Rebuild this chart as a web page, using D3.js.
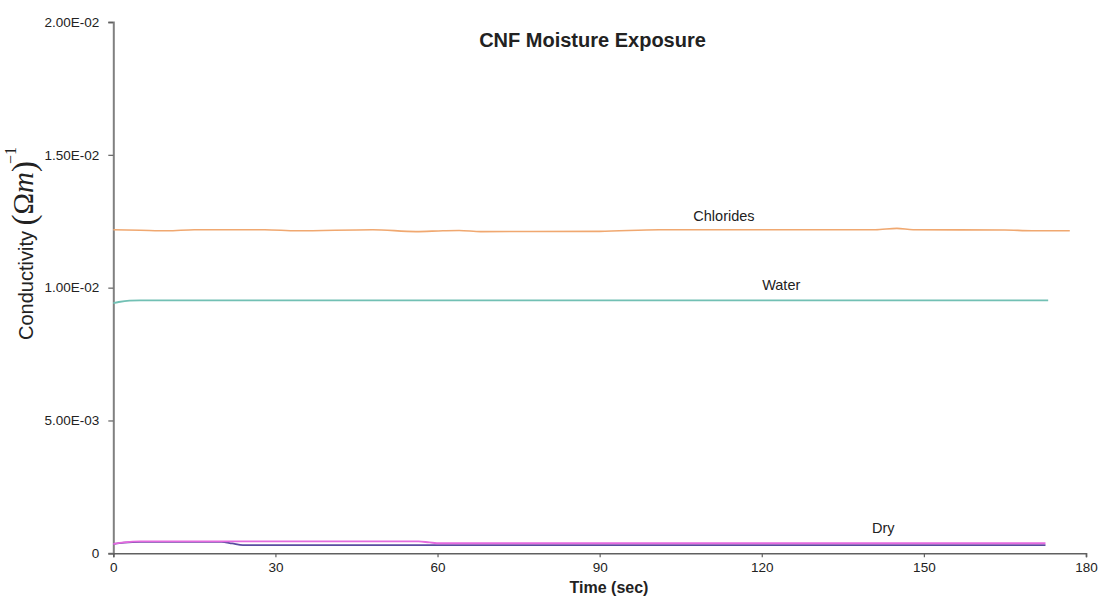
<!DOCTYPE html>
<html>
<head>
<meta charset="utf-8">
<script src="https://cdn.jsdelivr.net/npm/d3@7"></script>
<style>
  html, body { margin: 0; padding: 0; background: #fff; }
  svg { display: block; }
  text { font-family: "Liberation Sans", Arial, sans-serif; fill: #222; }
</style>
</head>
<body>
<svg id="chart" width="1107" height="598"></svg>
<script>
// Conductivity readings over time (seconds), one array pair per exposure condition
const chloridesTime = [0, 5, 10, 15, 28, 34, 48, 56, 61, 64, 68, 90, 101, 131, 141, 145, 148, 165, 170, 177];
const chloridesValue = [0.01218, 0.01216, 0.01214, 0.01218, 0.01218, 0.01214, 0.01218, 0.01211, 0.01214, 0.01215,
                        0.01211, 0.01212, 0.01218, 0.01218, 0.01218, 0.01223, 0.01218, 0.01217, 0.01214, 0.01214];

const waterTime = [0, 1, 3, 5, 30, 60, 90, 120, 150, 173];
const waterValue = [0.00942, 0.00946, 0.00951, 0.00952, 0.00952, 0.00952, 0.00952, 0.00952, 0.00952, 0.00952];

const dryATime = [0, 2, 5, 20, 22, 24, 60, 120, 172.5];
const dryAValue = [0.00035, 0.00040, 0.00043, 0.00043, 0.00037, 0.00031, 0.00031, 0.00031, 0.00031];

const dryBTime = [0, 2, 5, 56.5, 58.5, 60.5, 120, 172.5];
const dryBValue = [0.00035, 0.00041, 0.00045, 0.00045, 0.00041, 0.00038, 0.00038, 0.00038];

const xTicks = [0, 30, 60, 90, 120, 150, 180];
const yTicks = [0, 0.005, 0.01, 0.015, 0.02];

const chartTitle = "CNF Moisture Exposure";
const xTitle = "Time (sec)";

const svg = d3.select("#chart");

const x = d3.scaleLinear().domain([0, 180]).range([113.3, 1086]);
const y = d3.scaleLinear().domain([0, 0.02]).range([553.3, 22]);

const fmtY = d => {
  if (d === 0) return "0";
  const [m, e] = d.toExponential(2).split("e");
  const sign = e[0] === "-" ? "-" : "+";
  const digits = e.replace(/[+-]/, "").padStart(2, "0");
  return m + "E" + sign + digits;
};

// Axes
const yAxis = svg.append("g")
  .attr("transform", `translate(${x(0)},0)`)
  .call(d3.axisLeft(y).tickValues(yTicks).tickFormat(fmtY).tickSizeOuter(0).tickSize(5).tickPadding(9));
yAxis.select(".domain").attr("stroke", "#808080").attr("stroke-width", 2);
yAxis.selectAll(".tick line").attr("stroke", "#606060").attr("stroke-width", 1.2);
yAxis.selectAll(".tick text").attr("font-size", 13.5).attr("font-family", "Liberation Sans, Arial, sans-serif").attr("fill", "#333");

const xAxis = svg.append("g")
  .attr("transform", `translate(0,${y(0)})`)
  .call(d3.axisBottom(x).tickValues(xTicks).tickFormat(d3.format("d")).tickSizeOuter(0).tickSize(4).tickPadding(5));
xAxis.select(".domain").attr("stroke", "#606060").attr("stroke-width", 1.6);
xAxis.selectAll(".tick line").attr("stroke", "#606060").attr("stroke-width", 1.2);
xAxis.selectAll(".tick text").attr("font-size", 13.5).attr("font-family", "Liberation Sans, Arial, sans-serif").attr("fill", "#333");

// Series lines
const line = d3.line().x(d => x(d[0])).y(d => y(d[1])).curve(d3.curveMonotoneX);
const zip = (t, v) => t.map((ti, i) => [ti, v[i]]);

const series = [
  { name: "Chlorides", data: zip(chloridesTime, chloridesValue), color: "#F0A870", width: 1.6 },
  { name: "Water", data: zip(waterTime, waterValue), color: "#72C0B4", width: 1.8 },
  { name: "DryA", data: zip(dryATime, dryAValue), color: "#5A4CA0", width: 1.8 },
  { name: "DryB", data: zip(dryBTime, dryBValue), color: "#E56ADF", width: 1.9 }
];

svg.append("g").selectAll("path")
  .data(series)
  .join("path")
  .attr("d", d => line(d.data))
  .attr("fill", "none")
  .attr("stroke", d => d.color)
  .attr("stroke-width", d => d.width);

// Series labels
const labels = [
  { text: "Chlorides", t: 113, v: chloridesValue[13], dy: -9 },
  { text: "Water", t: 123.6, v: waterValue[7], dy: -10 },
  { text: "Dry", t: 142.5, v: dryBValue[7], dy: -10 }
];
svg.append("g").selectAll("text")
  .data(labels)
  .join("text")
  .attr("x", d => x(d.t))
  .attr("y", d => y(d.v) + d.dy)
  .attr("text-anchor", "middle")
  .attr("font-size", 14.5)
  .attr("fill", "#222")
  .text(d => d.text);

// Title
svg.append("text")
  .attr("x", 592.5).attr("y", 47)
  .attr("text-anchor", "middle")
  .attr("font-size", 20).attr("font-weight", "bold")
  .attr("fill", "#111")
  .text(chartTitle);

// X axis title
svg.append("text")
  .attr("x", 609).attr("y", 593)
  .attr("text-anchor", "middle")
  .attr("font-size", 16).attr("font-weight", "bold")
  .attr("fill", "#111")
  .text(xTitle);

// Y axis title: Conductivity (Ωm)^-1
const serif = "Liberation Serif, Times New Roman, serif";
const yt = svg.append("text")
  .attr("transform", "translate(33,340) rotate(-90)")
  .attr("text-anchor", "start")
  .attr("fill", "#111");
yt.append("tspan").attr("font-size", 20).text("Conductivity ");
yt.append("tspan").attr("font-family", serif).attr("font-size", 33).attr("dy", 2).text("(");
yt.append("tspan").attr("font-family", serif).attr("font-size", 29).attr("dy", -2).text("Ω");
yt.append("tspan").attr("font-family", serif).attr("font-style", "italic").attr("font-size", 29).text("m");
yt.append("tspan").attr("font-family", serif).attr("font-size", 33).attr("dy", 2).text(")");
yt.append("tspan").attr("font-family", serif).attr("font-size", 16).attr("dx", -3).attr("dy", -19).text("−1");
</script>
</body>
</html>
